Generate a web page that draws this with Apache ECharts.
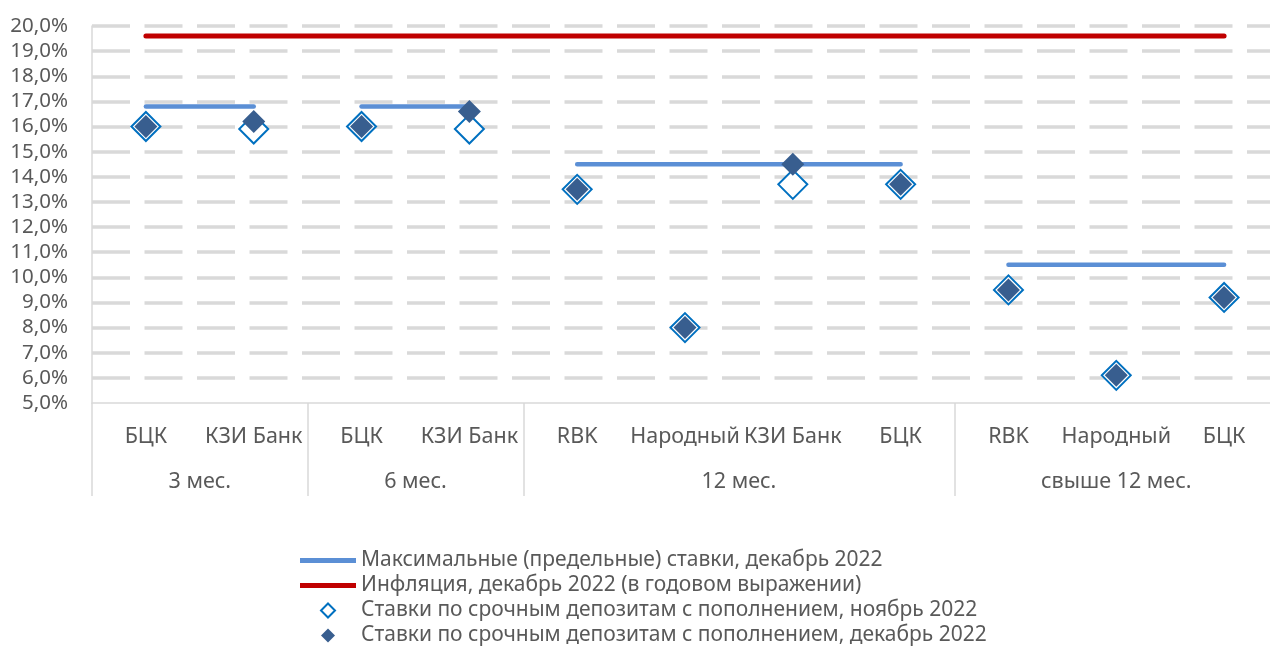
<!DOCTYPE html>
<html><head><meta charset="utf-8">
<script src="https://cdn.jsdelivr.net/npm/echarts@6/dist/echarts.min.js"></script>
<style>html,body{margin:0;padding:0;background:#fff}#c{width:1270px;height:657px}</style>
</head><body><div id="c"></div>
<script>
const categories = ['БЦК','КЗИ Банк','БЦК','КЗИ Банк','RBK','Народный','КЗИ Банк','БЦК','RBK','Народный','БЦК'];
const groupNames = ['3 мес.','6 мес.','12 мес.','свыше 12 мес.'];
const groupSizes = [2,2,4,3];
const maxRates = [16.8,16.8,14.5,10.5];
const inflationRate = 19.6;
const novRates = [16.0,15.9,16.0,15.9,13.5,8.0,13.7,13.7,9.5,6.1,9.2];
const decRates = [16.0,16.2,16.0,16.6,13.5,8.0,14.5,13.7,9.5,6.1,9.2];
const yMin = 5, yMax = 20, yStep = 1;
const seriesNames = [
  'Максимальные (предельные) ставки, декабрь 2022',
  'Инфляция, декабрь 2022 (в годовом выражении)',
  'Ставки по срочным депозитам с пополнением, ноябрь 2022',
  'Ставки по срочным депозитам с пополнением, декабрь 2022'
];

const FONT = '"Noto Sans", sans-serif';
const TXT = '#595959';
const MAX_C = '#5B8FD5', INF_C = '#C00000', NOV_C = '#0070C0', DEC_C = '#385E8F';

const groupStarts = [];
let acc = 0;
groupSizes.forEach(s => { groupStarts.push(acc); acc += s; });
const groupLabelAt = {};
groupNames.forEach((n, i) => { groupLabelAt[2 * groupStarts[i] + groupSizes[i]] = n; });

const maxSeries = groupNames.map((g, gi) => ({
  name: seriesNames[0],
  type: 'line',
  xAxisIndex: 0,
  data: categories.map((c, i) => (i >= groupStarts[gi] && i < groupStarts[gi] + groupSizes[gi]) ? maxRates[gi] : null),
  showSymbol: false,
  symbol: 'none',
  lineStyle: { color: MAX_C, width: 4.5, cap: 'round' },
  itemStyle: { color: MAX_C },
  emphasis: { disabled: true },
  z: 2
}));

const LINE_ICON = 'path://M0,0h56v5h-56z';
const DIAMOND_ICON = 'path://M7,0L14,7L7,14L0,7Z';

const chart = echarts.init(document.getElementById('c'), null, { renderer: 'canvas' });
chart.setOption({
  animation: false,
  textStyle: { fontFamily: FONT },
  grid: { left: 92, top: 26, width: 1186, height: 377, containLabel: false, outerBoundsMode: 'none' },
  xAxis: [
    {
      type: 'category',
      data: categories,
      position: 'bottom',
      boundaryGap: true,
      axisLine: { show: true, lineStyle: { color: '#D9D9D9', width: 1.5 } },
      axisTick: {
        show: true,
        interval: (i) => groupStarts.indexOf(i) >= 0,
        length: 93,
        lineStyle: { color: '#D9D9D9', width: 1.5 }
      },
      axisLabel: { interval: 0, margin: 22.5, color: TXT, fontSize: 21.5, fontFamily: FONT },
      splitLine: { show: false }
    },
    {
      type: 'value',
      min: 0, max: 2 * categories.length, interval: 1,
      position: 'bottom',
      axisLine: { show: false },
      axisTick: { show: false },
      splitLine: { show: false },
      axisLabel: {
        margin: 67.5, color: TXT, fontSize: 21.5, fontFamily: FONT,
        showMinLabel: true, showMaxLabel: true,
        formatter: (v) => groupLabelAt[v] || ''
      }
    }
  ],
  yAxis: {
    type: 'value',
    min: yMin, max: yMax, interval: yStep,
    axisLine: { show: true, lineStyle: { color: '#D9D9D9', width: 1.5 } },
    axisTick: { show: false },
    axisLabel: {
      margin: 24, color: TXT, fontSize: 20.5, fontFamily: FONT,
      formatter: (v) => v.toFixed(1).replace('.', ',') + '%'
    },
    splitLine: {
      show: true, showMinLine: false,
      lineStyle: { color: '#D9D9D9', width: 3.5, type: [38, 14.5] }
    }
  },
  legend: {
    orient: 'vertical',
    left: 295, top: 545,
    itemWidth: 56, itemHeight: 14, itemGap: 4,
    textStyle: { color: TXT, fontSize: 21, fontFamily: FONT, lineHeight: 20 },
    data: [
      { name: seriesNames[0], icon: LINE_ICON, itemStyle: { color: MAX_C } },
      { name: seriesNames[1], icon: LINE_ICON, itemStyle: { color: INF_C } },
      { name: seriesNames[2], icon: DIAMOND_ICON, itemStyle: { color: '#fff', borderColor: NOV_C, borderWidth: 2 } },
      { name: seriesNames[3], icon: DIAMOND_ICON, itemStyle: { color: DEC_C } }
    ],
    selectedMode: false
  },
  series: [
    ...maxSeries,
    {
      name: seriesNames[1],
      type: 'line',
      xAxisIndex: 0,
      data: categories.map(() => inflationRate),
      showSymbol: false,
      symbol: 'none',
      lineStyle: { color: INF_C, width: 5, cap: 'round' },
      itemStyle: { color: INF_C },
      emphasis: { disabled: true },
      z: 2
    },
    {
      name: seriesNames[2],
      type: 'scatter',
      xAxisIndex: 0,
      data: novRates,
      symbol: 'diamond',
      symbolSize: 29,
      itemStyle: { color: '#FFFFFF', borderColor: NOV_C, borderWidth: 2, opacity: 1 },
      emphasis: { disabled: true },
      z: 3
    },
    {
      name: seriesNames[3],
      type: 'scatter',
      xAxisIndex: 0,
      data: decRates,
      symbol: 'diamond',
      symbolSize: 23,
      itemStyle: { color: DEC_C, opacity: 1 },
      emphasis: { disabled: true },
      z: 4
    }
  ]
});
</script></body></html>
